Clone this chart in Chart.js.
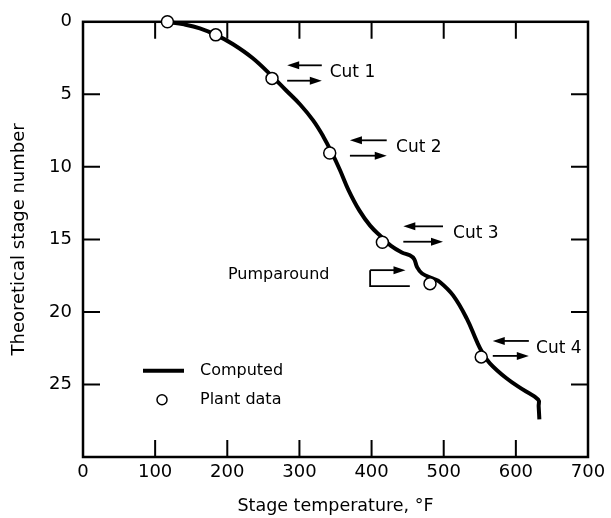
<!DOCTYPE html>
<html>
<head>
<meta charset="utf-8">
<script src="https://cdn.jsdelivr.net/npm/chart.js@4.4.0/dist/chart.umd.min.js"></script>
<style>
  body { margin: 0; background: #fff; }
  canvas { display: block; }
</style>
</head>
<body>
<canvas id="stageChart" width="611" height="518"></canvas>
<script>
// computed temperature profile (stage temperature, F vs theoretical stage)
const curveTemp  = [117, 140, 162, 185, 208, 235, 262, 281, 301, 319, 333, 345, 356, 368, 383, 398, 413, 427, 442, 453, 459, 463, 470, 485, 495, 513, 532, 546, 553, 564, 587, 610, 631, 631.6, 632.6];
const curveStage = [0, 0.18, 0.45, 0.92, 1.55, 2.5, 3.75, 4.7, 5.7, 6.8, 7.9, 9.04, 10.2, 11.6, 13.0, 14.05, 14.8, 15.45, 15.9, 16.1, 16.35, 16.9, 17.35, 17.7, 17.95, 18.86, 20.46, 22.05, 22.74, 23.54, 24.57, 25.36, 26.05, 26.5, 27.4];

// plant data
const plantTemp  = [117, 184, 262, 342, 415, 481, 552];
const plantStage = [0, 0.9, 3.9, 9.05, 15.2, 18.05, 23.1];

// tick labels
const tempTicks  = [0, 100, 200, 300, 400, 500, 600, 700];
const stageTicks = [0, 5, 10, 15, 20, 25];

// side cuts (placed in data units)
const cutNames    = ['Cut 1', 'Cut 2', 'Cut 3', 'Cut 4'];
const cutFromTemp = [283, 370, 444, 568];
const cutToTemp   = [331, 421, 499, 618];
const cutOutStage = [3.0, 8.17, 14.1, 22.0];
const cutInStage  = [4.06, 9.23, 15.16, 23.03];
const cutTextTemp = [342, 434, 513, 628];

const ink = '#000';
const FONT = 'DejaVu Sans';

function arrowLine(ctx, x1, x2, y) {
  // line from x1 to x2, head at x2
  const dir = x2 > x1 ? 1 : -1;
  ctx.beginPath();
  ctx.moveTo(x1, y);
  ctx.lineTo(x2 - dir * 8, y);
  ctx.stroke();
  ctx.beginPath();
  ctx.moveTo(x2, y);
  ctx.lineTo(x2 - dir * 12, y - 4);
  ctx.lineTo(x2 - dir * 12, y + 4);
  ctx.closePath();
  ctx.fill();
}

const framePlugin = {
  id: 'frame',
  beforeDatasetsDraw(chart) {
    const {ctx, chartArea: a, scales: {x, y}} = chart;
    ctx.save();
    ctx.strokeStyle = ink;
    ctx.lineWidth = 2.5;
    ctx.strokeRect(a.left, a.top, a.right - a.left, a.bottom - a.top);
    ctx.lineWidth = 2;
    ctx.beginPath();
    tempTicks.forEach(v => {
      if (v === 0 || v === 700) return;
      const px = x.getPixelForValue(v);
      ctx.moveTo(px, a.top); ctx.lineTo(px, a.top + 17);
      ctx.moveTo(px, a.bottom); ctx.lineTo(px, a.bottom - 17);
    });
    stageTicks.forEach(v => {
      if (v === 0) return;
      const py = y.getPixelForValue(v);
      ctx.moveTo(a.left, py); ctx.lineTo(a.left + 17, py);
      ctx.moveTo(a.right, py); ctx.lineTo(a.right - 17, py);
    });
    ctx.stroke();
    ctx.restore();
  },
  afterDatasetsDraw(chart) {
    const {ctx, chartArea: a, scales: {x, y}} = chart;
    ctx.save();
    ctx.strokeStyle = ink;
    ctx.fillStyle = ink;
    ctx.lineWidth = 1.8;
    ctx.font = '17px ' + FONT;
    ctx.textBaseline = 'middle';

    // cuts
    cutNames.forEach((name, i) => {
      const x1 = x.getPixelForValue(cutFromTemp[i]);
      const x2 = x.getPixelForValue(cutToTemp[i]);
      arrowLine(ctx, x2, x1, y.getPixelForValue(cutOutStage[i]));
      arrowLine(ctx, x1, x2, y.getPixelForValue(cutInStage[i]));
      const ty = (y.getPixelForValue(cutOutStage[i]) + y.getPixelForValue(cutInStage[i])) / 2;
      ctx.textAlign = 'left';
      ctx.fillText(name, x.getPixelForValue(cutTextTemp[i]), ty);
    });

    // pumparound
    ctx.font = '16px ' + FONT;
    const pl = x.getPixelForValue(398);
    const pt = y.getPixelForValue(17.12);
    const pb = y.getPixelForValue(18.22);
    ctx.beginPath();
    ctx.moveTo(x.getPixelForValue(453), pb);
    ctx.lineTo(pl, pb);
    ctx.lineTo(pl, pt);
    ctx.stroke();
    arrowLine(ctx, pl, x.getPixelForValue(447), pt);
    ctx.textAlign = 'left';
    ctx.fillText('Pumparound', x.getPixelForValue(201), y.getPixelForValue(17.47));

    // legend
    const lx = a.left;
    ctx.lineWidth = 4;
    ctx.beginPath();
    ctx.moveTo(lx + 60, a.top + 349);
    ctx.lineTo(lx + 101, a.top + 349);
    ctx.stroke();
    ctx.lineWidth = 1.5;
    ctx.fillStyle = '#fff';
    ctx.beginPath();
    ctx.arc(lx + 79, a.top + 378, 5, 0, Math.PI * 2);
    ctx.fill();
    ctx.stroke();
    ctx.fillStyle = ink;
    ctx.fillText('Computed', lx + 117, a.top + 349);
    ctx.fillText('Plant data', lx + 117, a.top + 378);
    ctx.restore();
  }
};

Chart.defaults.font.family = FONT;
Chart.defaults.color = ink;

const ctx = document.getElementById('stageChart').getContext('2d');
const stageChart = new Chart(ctx, {
  type: 'scatter',
  data: {
    datasets: [
      {
        label: 'Plant data',
        data: plantTemp.map((t, i) => ({x: t, y: plantStage[i]})),
        pointRadius: 6,
        pointBackgroundColor: '#fff',
        pointBorderColor: ink,
        pointBorderWidth: 1.5,
        clip: false,
        order: 0
      },
      {
        type: 'line',
        label: 'Computed',
        data: curveTemp.map((t, i) => ({x: t, y: curveStage[i]})),
        borderColor: ink,
        borderWidth: 4,
        pointRadius: 0,
        fill: false,
        tension: 0.4,
        clip: false,
        order: 1
      }
    ]
  },
  options: {
    responsive: false,
    animation: false,
    layout: { padding: { top: 18, right: 23, left: 0, bottom: 0 } },
    plugins: { legend: { display: false }, tooltip: { enabled: false } },
    scales: {
      x: {
        type: 'linear',
        min: 0,
        max: 700,
        afterBuildTicks: axis => { axis.ticks = tempTicks.map(v => ({value: v})); },
        afterFit: axis => { axis.height = 61; },
        grid: { display: false, drawTicks: false },
        border: { display: false },
        ticks: { font: { size: 18 }, padding: 5, maxRotation: 0 },
        title: {
          display: true,
          text: 'Stage temperature, °F',
          font: { size: 17.5 },
          padding: { top: 1, bottom: 1 }
        }
      },
      y: {
        type: 'linear',
        reverse: true,
        min: 0,
        max: 30,
        afterBuildTicks: axis => { axis.ticks = stageTicks.map(v => ({value: v})); },
        afterFit: axis => { axis.width = 83; },
        grid: { display: false, drawTicks: false },
        border: { display: false },
        ticks: { font: { size: 18 }, padding: 11 },
        title: {
          display: true,
          text: 'Theoretical stage number',
          font: { size: 18 },
          padding: { top: 9, bottom: 9 }
        }
      }
    }
  },
  plugins: [framePlugin]
});
</script>
</body>
</html>
